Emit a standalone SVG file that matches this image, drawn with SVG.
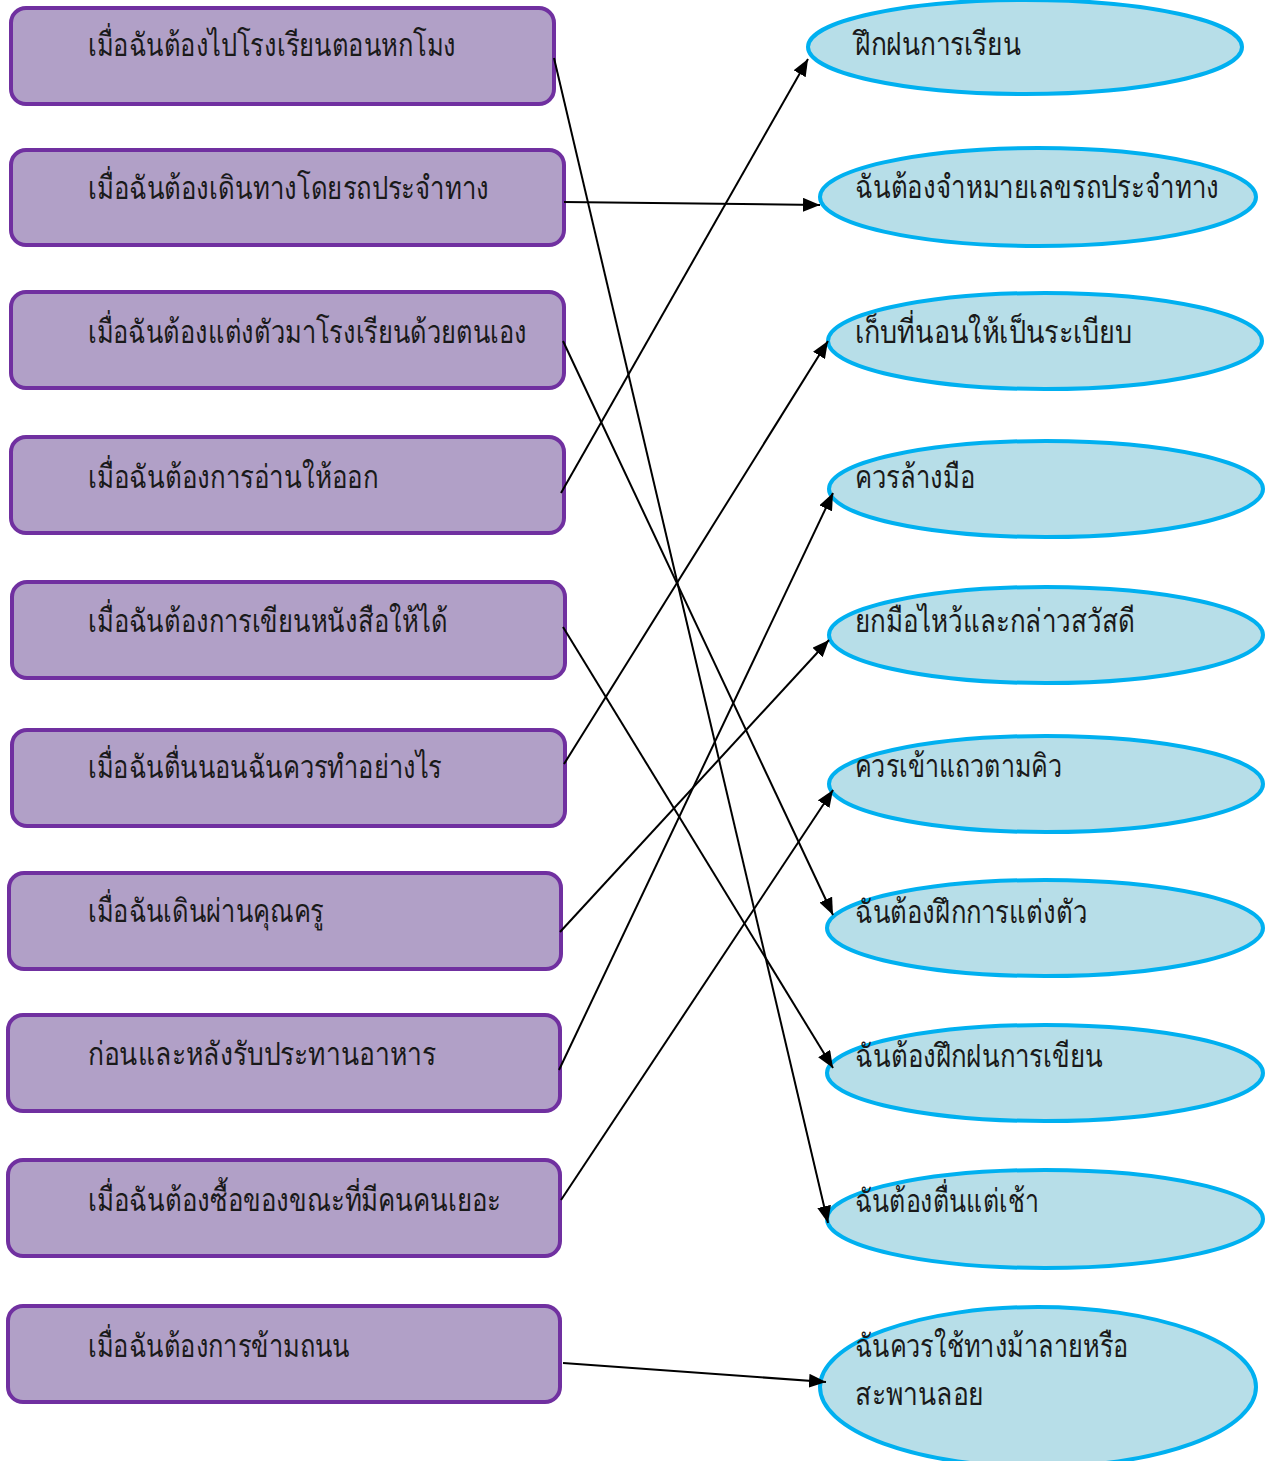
<svg xmlns="http://www.w3.org/2000/svg" width="1271" height="1461" viewBox="0 0 1271 1461">
<style>
.box{fill:#B1A0C7;stroke:#7030A0;stroke-width:4}
.ell{fill:#B7DEE8;stroke:#00B0F0;stroke-width:4}
.t{font-family:"Noto Sans","DejaVu Sans",sans-serif;font-size:32px;fill:#1a1a1a}
.c{stroke:#000;stroke-width:2;fill:none;marker-end:url(#ah)}
</style>
<defs>
<marker id="ah" markerUnits="userSpaceOnUse" markerWidth="17" markerHeight="14" viewBox="0 0 17 14" refX="17" refY="7" orient="auto">
<path d="M0,0 L17,7 L0,14 Z" fill="#000"/>
</marker>
</defs>
<rect width="1271" height="1461" fill="#fff"/>
<g id="nodes-left">
<g id="q1"><rect class="box" x="11" y="8" width="543" height="96" rx="15"/><text class="t" x="88" y="56" textLength="368" lengthAdjust="spacingAndGlyphs">เมื่อฉันต้องไปโรงเรียนตอนหกโมง</text></g>
<g id="q2"><rect class="box" x="11" y="150" width="553" height="95" rx="15"/><text class="t" x="88" y="199" textLength="401" lengthAdjust="spacingAndGlyphs">เมื่อฉันต้องเดินทางโดยรถประจำทาง</text></g>
<g id="q3"><rect class="box" x="11" y="292" width="553" height="96" rx="15"/><text class="t" x="88" y="343" textLength="439" lengthAdjust="spacingAndGlyphs">เมื่อฉันต้องแต่งตัวมาโรงเรียนด้วยตนเอง</text></g>
<g id="q4"><rect class="box" x="11" y="437" width="553" height="96" rx="15"/><text class="t" x="88" y="488" textLength="290" lengthAdjust="spacingAndGlyphs">เมื่อฉันต้องการอ่านให้ออก</text></g>
<g id="q5"><rect class="box" x="12" y="582" width="553" height="96" rx="15"/><text class="t" x="88" y="632" textLength="360" lengthAdjust="spacingAndGlyphs">เมื่อฉันต้องการเขียนหนังสือให้ได้</text></g>
<g id="q6"><rect class="box" x="12" y="730" width="553" height="96" rx="15"/><text class="t" x="88" y="778" textLength="354" lengthAdjust="spacingAndGlyphs">เมื่อฉันตื่นนอนฉันควรทำอย่างไร</text></g>
<g id="q7"><rect class="box" x="9" y="873" width="552" height="96" rx="15"/><text class="t" x="88" y="922" textLength="236" lengthAdjust="spacingAndGlyphs">เมื่อฉันเดินผ่านคุณครู</text></g>
<g id="q8"><rect class="box" x="8" y="1015" width="552" height="96" rx="15"/><text class="t" x="88" y="1065" textLength="348" lengthAdjust="spacingAndGlyphs">ก่อนและหลังรับประทานอาหาร</text></g>
<g id="q9"><rect class="box" x="8" y="1160" width="552" height="96" rx="15"/><text class="t" x="88" y="1211" textLength="413" lengthAdjust="spacingAndGlyphs">เมื่อฉันต้องซื้อของขณะที่มีคนคนเยอะ</text></g>
<g id="q10"><rect class="box" x="8" y="1306" width="552" height="96" rx="15"/><text class="t" x="88" y="1357" textLength="262" lengthAdjust="spacingAndGlyphs">เมื่อฉันต้องการข้ามถนน</text></g>
</g>
<g id="nodes-right">
<g id="a1"><ellipse class="ell" cx="1025" cy="47" rx="217" ry="47"/><text class="t" x="855" y="55" textLength="166" lengthAdjust="spacingAndGlyphs">ฝึกฝนการเรียน</text></g>
<g id="a2"><ellipse class="ell" cx="1038" cy="197" rx="218" ry="49"/><text class="t" x="855" y="198" textLength="364" lengthAdjust="spacingAndGlyphs">ฉันต้องจำหมายเลขรถประจำทาง</text></g>
<g id="a3"><ellipse class="ell" cx="1045" cy="341" rx="217" ry="48"/><text class="t" x="855" y="343" textLength="277" lengthAdjust="spacingAndGlyphs">เก็บที่นอนให้เป็นระเบียบ</text></g>
<g id="a4"><ellipse class="ell" cx="1046" cy="489" rx="217" ry="48"/><text class="t" x="855" y="488" textLength="120" lengthAdjust="spacingAndGlyphs">ควรล้างมือ</text></g>
<g id="a5"><ellipse class="ell" cx="1046" cy="635" rx="217" ry="48"/><text class="t" x="855" y="632" textLength="280" lengthAdjust="spacingAndGlyphs">ยกมือไหว้และกล่าวสวัสดี</text></g>
<g id="a6"><ellipse class="ell" cx="1046" cy="784" rx="217" ry="48"/><text class="t" x="855" y="777" textLength="207" lengthAdjust="spacingAndGlyphs">ควรเข้าแถวตามคิว</text></g>
<g id="a7"><ellipse class="ell" cx="1045" cy="928" rx="218" ry="48"/><text class="t" x="855" y="923" textLength="232" lengthAdjust="spacingAndGlyphs">ฉันต้องฝึกการแต่งตัว</text></g>
<g id="a8"><ellipse class="ell" cx="1045" cy="1073" rx="218" ry="48"/><text class="t" x="855" y="1067" textLength="248" lengthAdjust="spacingAndGlyphs">ฉันต้องฝึกฝนการเขียน</text></g>
<g id="a9"><ellipse class="ell" cx="1045" cy="1219" rx="218" ry="49"/><text class="t" x="855" y="1212" textLength="184" lengthAdjust="spacingAndGlyphs">ฉันต้องตื่นแต่เช้า</text></g>
<g id="a10"><ellipse class="ell" cx="1038" cy="1387" rx="218" ry="80"/><text class="t" x="855" y="1357" textLength="273" lengthAdjust="spacingAndGlyphs">ฉันควรใช้ทางม้าลายหรือ</text><text class="t" x="855" y="1405" textLength="129" lengthAdjust="spacingAndGlyphs">สะพานลอย</text></g>
</g>
<g id="connectors">
<path class="c" d="M554,58 L828,1223"/>
<path class="c" d="M564,202 L820,205"/>
<path class="c" d="M563,341 L833,915"/>
<path class="c" d="M561,493 L808,59"/>
<path class="c" d="M563,627 L833,1068"/>
<path class="c" d="M564,764 L828,341"/>
<path class="c" d="M560,932 L829,640"/>
<path class="c" d="M559,1070 L833,493"/>
<path class="c" d="M561,1200 L833,790"/>
<path class="c" d="M563,1363 L826,1382"/>
</g>
</svg>
